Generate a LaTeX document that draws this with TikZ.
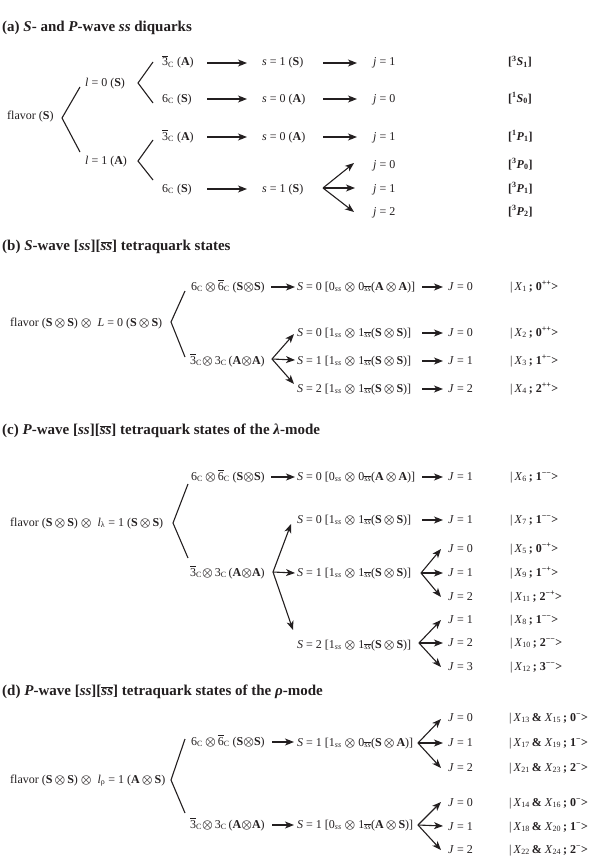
\documentclass[tikz,border=0pt]{standalone}
\usepackage{fontspec}
\setmainfont{Liberation Serif}
\usetikzlibrary{arrows.meta}
\definecolor{ink}{HTML}{231F20}
\newcommand{\ox}{{\boldmath$\otimes$}}
\newcommand{\ob}[1]{\ensuremath{\overline{\mbox{#1}}}}
\newcommand{\Cs}{\textsubscript{C}}
\newcommand{\bS}{\textbf{S}}
\newcommand{\bA}{\textbf{A}}
\newcommand{\ssb}{\textsubscript{\ob{\textit{ss}}}}
\newcommand{\sss}{\textsubscript{\textit{ss}}}
\newcommand{\kt}[2]{|\,\textit{X}\textsubscript{#1}\,\textbf{; #2>}}
\newcommand{\kk}[3]{|\,\textit{X}\textsubscript{#1}\,\textbf{\&} \textit{X}\textsubscript{#2}\,\textbf{; #3>}}
\newcommand{\wv}[3]{\textbf{[\textsuperscript{#1}\textit{#2}\textsubscript{#3}]}}
\begin{document}
\begin{tikzpicture}[x=1pt,y=-1pt,
  txt/.style={anchor=west,inner sep=0pt,text=ink,font=\fontsize{12}{14}\selectfont,text height=8pt,text depth=2pt},
  ttl/.style={anchor=west,inner sep=0pt,text=ink,font=\fontsize{15}{18}\selectfont\bfseries},
  br/.style={line width=1.1pt,draw=ink},
  arr/.style={br,-{Stealth[length=9pt,width=7pt,inset=2.5pt]}}]
\useasboundingbox (0,0) rectangle (590,859);
% ---------------- (a)
\node[ttl] (ta) at (2,28) {(a) \textit{S}- and \textit{P}-wave \textit{ss} diquarks};
\node[txt] (fa) at (7,116) {flavor (\bS)};
\node[txt] (la0) at (85,83) {\textit{l} = 0 (\bS)};
\node[txt] (la1) at (85,161) {\textit{l} = 1 (\bA)};
\node[txt] (ca1) at (162,63) {\ob{3}\Cs{} (\bA)};
\node[txt] (ca2) at (162,99) {6\Cs{} (\bS)};
\node[txt] (ca3) at (162,137) {\ob{3}\Cs{} (\bA)};
\node[txt] (ca4) at (162,189) {6\Cs{} (\bS)};
\node[txt] (sa1) at (262,63) {\textit{s} = 1 (\bS)};
\node[txt] (sa2) at (262,99) {\textit{s} = 0 (\bA)};
\node[txt] (sa3) at (262,137) {\textit{s} = 0 (\bA)};
\node[txt] (sa4) at (262,189) {\textit{s} = 1 (\bS)};
\node[txt] (ja1) at (373,63) {\textit{j} = 1};
\node[txt] (ja2) at (373,99) {\textit{j} = 0};
\node[txt] (ja3) at (373,137) {\textit{j} = 1};
\node[txt] (ja4) at (373,165) {\textit{j} = 0};
\node[txt] (ja5) at (373,189) {\textit{j} = 1};
\node[txt] (ja6) at (373,212) {\textit{j} = 2};
\node[txt] (pa1) at (508,63) {\wv{3}{S}{1}};
\node[txt] (pa2) at (508,99) {\wv{1}{S}{0}};
\node[txt] (pa3) at (508,137) {\wv{1}{P}{1}};
\node[txt] (pa4) at (508,165) {\wv{3}{P}{0}};
\node[txt] (pa5) at (508,189) {\wv{3}{P}{1}};
\node[txt] (pa6) at (508,212) {\wv{3}{P}{2}};
\coordinate (va) at (62,118); \coordinate (va1) at (80,87); \coordinate (va2) at (80,152);
\coordinate (vb) at (138,83); \coordinate (vb1) at (153,62); \coordinate (vb2) at (153,103);
\coordinate (vc) at (138,161); \coordinate (vc1) at (153,140); \coordinate (vc2) at (153,180);
\draw[br] (va1) -- (va) -- (va2);
\draw[br] (vb1) -- (vb) -- (vb2);
\draw[br] (vc1) -- (vc) -- (vc2);
\coordinate (xa1) at (207,0); \coordinate (xa2) at (247,0);
\coordinate (xa3) at (323,0); \coordinate (xa4) at (357,0);
\foreach \r in {ca1,ca2,ca3,ca4} {\draw[arr] (xa1 |- \r) -- (xa2 |- \r);}
\foreach \r in {sa1,sa2,sa3} {\draw[arr] (xa3 |- \r) -- (xa4 |- \r);}
\coordinate (fa0) at (323,188);
\coordinate (fa1) at (354,163); \coordinate (fa2) at (355,188); \coordinate (fa3) at (354,212);
\draw[arr] (fa0) -- (fa1); \draw[arr] (fa0) -- (fa2); \draw[arr] (fa0) -- (fa3);
% ---------------- (b)
\node[ttl] (tb) at (2,247) {(b) \textit{S}-wave [\textit{ss}][\ob{\textit{ss}}] tetraquark states};
\node[txt] (fb) at (10,323) {flavor (\bS\,\ox\,\bS) \ox\ \ \textit{L} = 0 (\bS\,\ox\,\bS)};
\node[txt] (cb1) at (191,287) {6\Cs\,\ox\,\ob{6}\Cs{} (\bS\ox\bS)};
\node[txt] (cb2) at (190,361) {\ob{3}\Cs\ox\,3\Cs{}\,(\bA\ox\bA)};
\node[txt] (sb1) at (297,287) {\textit{S} = 0 [0\sss{} \ox\ 0\ssb(\bA\,\ox\,\bA)]};
\node[txt] (sb2) at (297,333) {\textit{S} = 0 [1\sss{} \ox\ 1\ssb(\bS\,\ox\,\bS)]};
\node[txt] (sb3) at (297,361) {\textit{S} = 1 [1\sss{} \ox\ 1\ssb(\bS\,\ox\,\bS)]};
\node[txt] (sb4) at (297,389) {\textit{S} = 2 [1\sss{} \ox\ 1\ssb(\bS\,\ox\,\bS)]};
\node[txt] (jb1) at (448,287) {\textit{J} = 0};
\node[txt] (jb2) at (448,333) {\textit{J} = 0};
\node[txt] (jb3) at (448,361) {\textit{J} = 1};
\node[txt] (jb4) at (448,389) {\textit{J} = 2};
\node[txt] (kb1) at (510,287) {\kt{1}{0\textsuperscript{++}}};
\node[txt] (kb2) at (510,333) {\kt{2}{0\textsuperscript{++}}};
\node[txt] (kb3) at (510,361) {\kt{3}{1\textsuperscript{+−}}};
\node[txt] (kb4) at (510,389) {\kt{4}{2\textsuperscript{++}}};
\coordinate (vd) at (171,322); \coordinate (vd1) at (185,291); \coordinate (vd2) at (185,357);
\draw[br] (vd1) -- (vd) -- (vd2);
\coordinate (xb1) at (271,0); \coordinate (xb2) at (295,0);
\coordinate (xj1) at (422,0); \coordinate (xj2) at (443,0);
\draw[arr] (xb1 |- cb1) -- (xb2 |- cb1);
\coordinate (fb0) at (272,359);
\coordinate (fb1) at (294,334); \coordinate (fb2) at (295,360); \coordinate (fb3) at (294,384);
\draw[arr] (fb0) -- (fb1); \draw[arr] (fb0) -- (fb2); \draw[arr] (fb0) -- (fb3);
\foreach \r in {sb1,sb2,sb3,sb4} {\draw[arr] (xj1 |- \r) -- (xj2 |- \r);}
% ---------------- (c)
\node[ttl] (tc) at (2,431) {(c) \textit{P}-wave [\textit{ss}][\ob{\textit{ss}}] tetraquark states of the \textit{λ}-mode};
\node[txt] (fc) at (10,523) {flavor (\bS\,\ox\,\bS) \ox\ \ \textit{l}\textsubscript{λ} = 1 (\bS\,\ox\,\bS)};
\node[txt] (cc1) at (191,477) {6\Cs\,\ox\,\ob{6}\Cs{} (\bS\ox\bS)};
\node[txt] (cc2) at (190,573) {\ob{3}\Cs\ox\,3\Cs{}\,(\bA\ox\bA)};
\node[txt] (sc1) at (297,477) {\textit{S} = 0 [0\sss{} \ox\ 0\ssb(\bA\,\ox\,\bA)]};
\node[txt] (sc2) at (297,520) {\textit{S} = 0 [1\sss{} \ox\ 1\ssb(\bS\,\ox\,\bS)]};
\node[txt] (sc3) at (297,573) {\textit{S} = 1 [1\sss{} \ox\ 1\ssb(\bS\,\ox\,\bS)]};
\node[txt] (sc4) at (297,645) {\textit{S} = 2 [1\sss{} \ox\ 1\ssb(\bS\,\ox\,\bS)]};
\node[txt] (jc1) at (448,477) {\textit{J} = 1};
\node[txt] (jc2) at (448,520) {\textit{J} = 1};
\node[txt] (jc3) at (448,549) {\textit{J} = 0};
\node[txt] (jc4) at (448,573) {\textit{J} = 1};
\node[txt] (jc5) at (448,597) {\textit{J} = 2};
\node[txt] (jc6) at (448,620) {\textit{J} = 1};
\node[txt] (jc7) at (448,643) {\textit{J} = 2};
\node[txt] (jc8) at (448,667) {\textit{J} = 3};
\node[txt] (kc1) at (510,477) {\kt{6}{1\textsuperscript{−−}}};
\node[txt] (kc2) at (510,520) {\kt{7}{1\textsuperscript{−−}}};
\node[txt] (kc3) at (510,549) {\kt{5}{0\textsuperscript{−+}}};
\node[txt] (kc4) at (510,573) {\kt{9}{1\textsuperscript{−+}}};
\node[txt] (kc5) at (510,597) {\kt{11}{2\textsuperscript{−+}}};
\node[txt] (kc6) at (510,620) {\kt{8}{1\textsuperscript{−−}}};
\node[txt] (kc7) at (510,643) {\kt{10}{2\textsuperscript{−−}}};
\node[txt] (kc8) at (510,667) {\kt{12}{3\textsuperscript{−−}}};
\coordinate (ve) at (173,523); \coordinate (ve1) at (188,484); \coordinate (ve2) at (188,558);
\draw[br] (ve1) -- (ve) -- (ve2);
\draw[arr] (xb1 |- cc1) -- (xb2 |- cc1);
\coordinate (fc0) at (273,572);
\coordinate (fc1) at (291,524); \coordinate (fc2) at (295,573); \coordinate (fc3) at (293,630);
\draw[arr] (fc0) -- (fc1); \draw[arr] (fc0) -- (fc2); \draw[arr] (fc0) -- (fc3);
\foreach \r in {sc1,sc2} {\draw[arr] (xj1 |- \r) -- (xj2 |- \r);}
\coordinate (fd0) at (421,573);
\coordinate (fd1) at (441,549); \coordinate (fd2) at (443,573); \coordinate (fd3) at (441,597);
\draw[arr] (fd0) -- (fd1); \draw[arr] (fd0) -- (fd2); \draw[arr] (fd0) -- (fd3);
\coordinate (fe0) at (419,643);
\coordinate (fe1) at (441,620); \coordinate (fe2) at (443,643); \coordinate (fe3) at (441,667);
\draw[arr] (fe0) -- (fe1); \draw[arr] (fe0) -- (fe2); \draw[arr] (fe0) -- (fe3);
% ---------------- (d)
\node[ttl] (td) at (2,692) {(d) \textit{P}-wave [\textit{ss}][\ob{\textit{ss}}] tetraquark states of the \textit{ρ}-mode};
\node[txt] (fdl) at (10,780) {flavor (\bS\,\ox\,\bS) \ox\ \ \textit{l}\textsubscript{ρ} = 1 (\bA\,\ox\,\bS)};
\node[txt] (cd1) at (191,742) {6\Cs\,\ox\,\ob{6}\Cs{} (\bS\ox\bS)};
\node[txt] (cd2) at (190,825) {\ob{3}\Cs\ox\,3\Cs{}\,(\bA\ox\bA)};
\node[txt] (sd1) at (297,743) {\textit{S} = 1 [1\sss{} \ox\ 0\ssb(\bS\,\ox\,\bA)]};
\node[txt] (sd2) at (297,825) {\textit{S} = 1 [0\sss{} \ox\ 1\ssb(\bA\,\ox\,\bS)]};
\node[txt] (jd1) at (448,718) {\textit{J} = 0};
\node[txt] (jd2) at (448,743) {\textit{J} = 1};
\node[txt] (jd3) at (448,768) {\textit{J} = 2};
\node[txt] (jd4) at (448,803) {\textit{J} = 0};
\node[txt] (jd5) at (448,827) {\textit{J} = 1};
\node[txt] (jd6) at (448,850) {\textit{J} = 2};
\node[txt] (kd1) at (509,718) {\kk{13}{15}{0\textsuperscript{−}}};
\node[txt] (kd2) at (509,743) {\kk{17}{19}{1\textsuperscript{−}}};
\node[txt] (kd3) at (509,768) {\kk{21}{23}{2\textsuperscript{−}}};
\node[txt] (kd4) at (509,803) {\kk{14}{16}{0\textsuperscript{−}}};
\node[txt] (kd5) at (509,827) {\kk{18}{20}{1\textsuperscript{−}}};
\node[txt] (kd6) at (509,850) {\kk{22}{24}{2\textsuperscript{−}}};
\coordinate (vf) at (171,780); \coordinate (vf1) at (185,739); \coordinate (vf2) at (185,813);
\draw[br] (vf1) -- (vf) -- (vf2);
\coordinate (xd1) at (272,0); \coordinate (xd2) at (294,0);
\draw[arr] (xd1 |- cd1) -- (xd2 |- cd1);
\draw[arr] (xd1 |- cd2) -- (xd2 |- cd2);
\coordinate (fg0) at (418,743);
\coordinate (fg1) at (441,719); \coordinate (fg2) at (443,743); \coordinate (fg3) at (441,768);
\draw[arr] (fg0) -- (fg1); \draw[arr] (fg0) -- (fg2); \draw[arr] (fg0) -- (fg3);
\coordinate (fh0) at (418,825);
\coordinate (fh1) at (441,802); \coordinate (fh2) at (443,826); \coordinate (fh3) at (441,850);
\draw[arr] (fh0) -- (fh1); \draw[arr] (fh0) -- (fh2); \draw[arr] (fh0) -- (fh3);
\end{tikzpicture}
\end{document}
